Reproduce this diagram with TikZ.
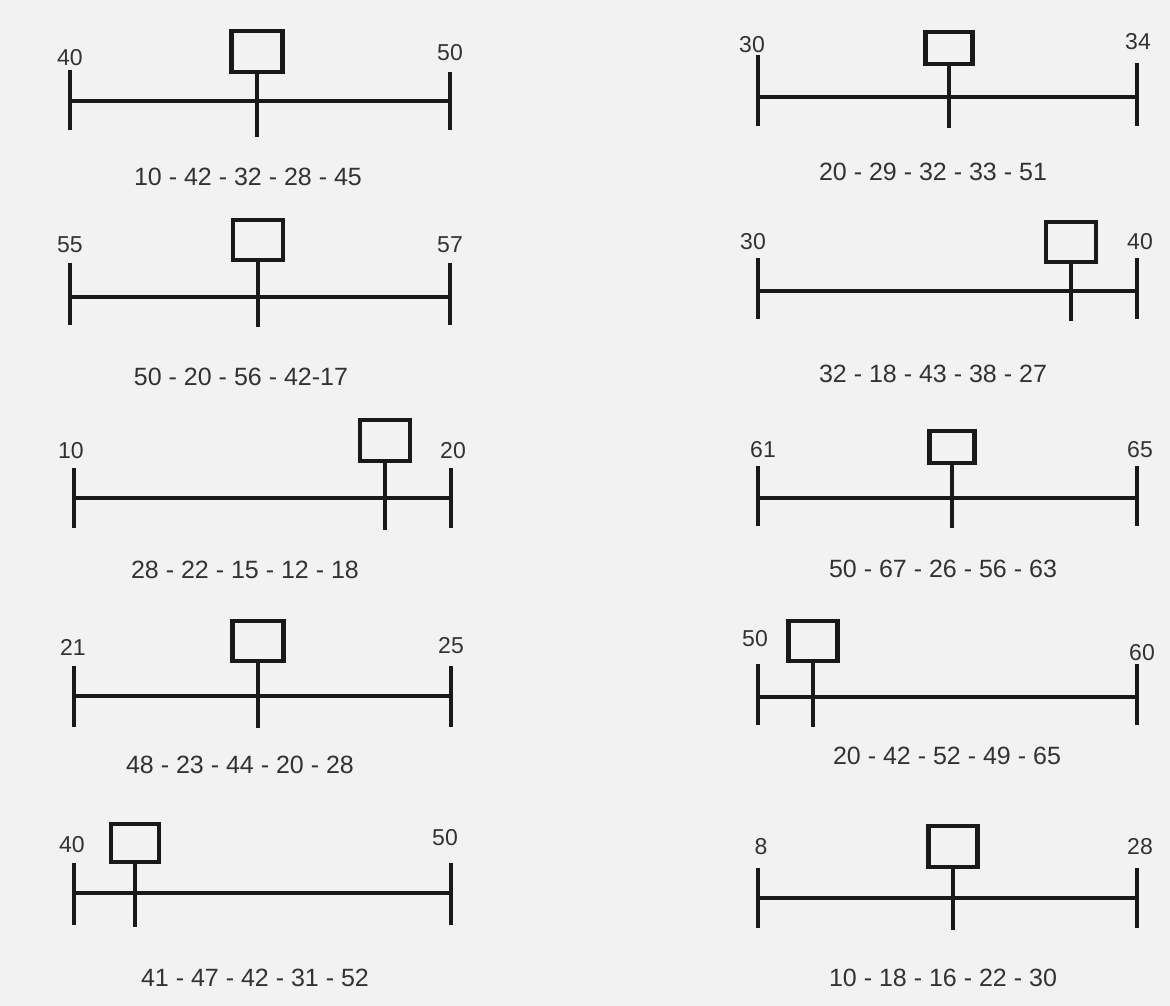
\documentclass[tikz,border=0pt]{standalone}
\usepackage{fontspec}
\setmainfont{Liberation Sans}
\definecolor{bg}{RGB}{242,242,242}
\definecolor{ink}{RGB}{25,25,25}
\definecolor{txt}{RGB}{50,50,50}
\tikzset{
  bar/.style={line width=4.2pt, draw=ink},
  marker/.style={draw=ink, line width=4.2pt, rectangle, inner sep=0pt},
  endlabel/.style={text=txt, font=\fontsize{23}{23}\selectfont, inner sep=0pt},
  caption/.style={text=txt, font=\fontsize{25}{25}\selectfont, inner sep=0pt},
}
\begin{document}
\begin{tikzpicture}[x=1pt,y=-1pt]
\fill[bg] (0,0) rectangle (1170,1006);
\useasboundingbox (0,0) rectangle (1170,1006);

% ---------- Left column ----------
% L1
\draw[bar] (70,70) -- (70,130);
\draw[bar] (450,72) -- (450,130);
\draw[bar] (70,101) -- (450,101);
\node[marker, minimum width=51pt, minimum height=41pt] (bL1) at (257,51.5) {};
\draw[bar] (bL1.south) -- ++(0,63);
\node[endlabel] (aL1) at (70,58) {40};
\node[endlabel] (zL1) at (450,53) {50};
\node[caption] (cL1) at (248,177) {10 - 42 - 32 - 28 - 45};

% L2
\draw[bar] (70,263) -- (70,325);
\draw[bar] (450,263) -- (450,325);
\draw[bar] (70,297) -- (450,297);
\node[marker, minimum width=50pt, minimum height=40pt] (bL2) at (258,240) {};
\draw[bar] (bL2.south) -- ++(0,65);
\node[endlabel] (aL2) at (70,245) {55};
\node[endlabel] (zL2) at (450,245) {57};
\node[caption] (cL2) at (241,377) {50 - 20 - 56 - 42-17};

% L3
\draw[bar] (74,468) -- (74,528);
\draw[bar] (451,468) -- (451,528);
\draw[bar] (74,498) -- (451,498);
\node[marker, minimum width=50pt, minimum height=41pt] (bL3) at (385,440.5) {};
\draw[bar] (bL3.south) -- ++(0,67);
\node[endlabel] (aL3) at (71,451) {10};
\node[endlabel] (zL3) at (453,451) {20};
\node[caption] (cL3) at (245,570) {28 - 22 - 15 - 12 - 18};

% L4
\draw[bar] (74,666) -- (74,727);
\draw[bar] (451,666) -- (451,727);
\draw[bar] (74,696) -- (451,696);
\node[marker, minimum width=51pt, minimum height=40pt] (bL4) at (258,641) {};
\draw[bar] (bL4.south) -- ++(0,65);
\node[endlabel] (aL4) at (73,647) {21};
\node[endlabel] (zL4) at (451,646) {25};
\node[caption] (cL4) at (240,765) {48 - 23 - 44 - 20 - 28};

% L5
\draw[bar] (74,863) -- (74,925);
\draw[bar] (451,863) -- (451,925);
\draw[bar] (74,893) -- (451,893);
\node[marker, minimum width=48pt, minimum height=38pt] (bL5) at (135,843) {};
\draw[bar] (bL5.south) -- ++(0,63);
\node[endlabel] (aL5) at (72,845) {40};
\node[endlabel] (zL5) at (445,838) {50};
\node[caption] (cL5) at (255,978) {41 - 47 - 42 - 31 - 52};

% ---------- Right column ----------
% R1
\draw[bar] (758,55) -- (758,126);
\draw[bar] (1137,63) -- (1137,126);
\draw[bar] (758,97) -- (1137,97);
\node[marker, minimum width=47pt, minimum height=32pt] (bR1) at (949,48) {};
\draw[bar] (bR1.south) -- ++(0,62);
\node[endlabel] (aR1) at (752,45) {30};
\node[endlabel] (zR1) at (1138,42) {34};
\node[caption] (cR1) at (933,172) {20 - 29 - 32 - 33 - 51};

% R2
\draw[bar] (758,258) -- (758,319);
\draw[bar] (1137,258) -- (1137,319);
\draw[bar] (758,291) -- (1137,291);
\node[marker, minimum width=50pt, minimum height=40pt] (bR2) at (1071,242) {};
\draw[bar] (bR2.south) -- ++(0,57);
\node[endlabel] (aR2) at (753,242) {30};
\node[endlabel] (zR2) at (1140,242) {40};
\node[caption] (cR2) at (933,374) {32 - 18 - 43 - 38 - 27};

% R3
\draw[bar] (758,466) -- (758,526);
\draw[bar] (1137,466) -- (1137,526);
\draw[bar] (758,498) -- (1137,498);
\node[marker, minimum width=45pt, minimum height=32pt] (bR3) at (952,447) {};
\draw[bar] (bR3.south) -- ++(0,63);
\node[endlabel] (aR3) at (763,450) {61};
\node[endlabel] (zR3) at (1140,450) {65};
\node[caption] (cR3) at (943,569) {50 - 67 - 26 - 56 - 63};

% R4
\draw[bar] (758,664) -- (758,725);
\draw[bar] (1137,664) -- (1137,725);
\draw[bar] (758,697) -- (1137,697);
\node[marker, minimum width=49pt, minimum height=40pt] (bR4) at (813,641) {};
\draw[bar] (bR4.south) -- ++(0,64);
\node[endlabel] (aR4) at (755,639) {50};
\node[endlabel] (zR4) at (1142,653) {60};
\node[caption] (cR4) at (947,756) {20 - 42 - 52 - 49 - 65};

% R5
\draw[bar] (758,868) -- (758,928);
\draw[bar] (1137,868) -- (1137,928);
\draw[bar] (758,898) -- (1137,898);
\node[marker, minimum width=49pt, minimum height=41pt] (bR5) at (953,846.5) {};
\draw[bar] (bR5.south) -- ++(0,61);
\node[endlabel] (aR5) at (761,847) {8};
\node[endlabel] (zR5) at (1140,847) {28};
\node[caption] (cR5) at (943,978) {10 - 18 - 16 - 22 - 30};
\end{tikzpicture}
\end{document}
